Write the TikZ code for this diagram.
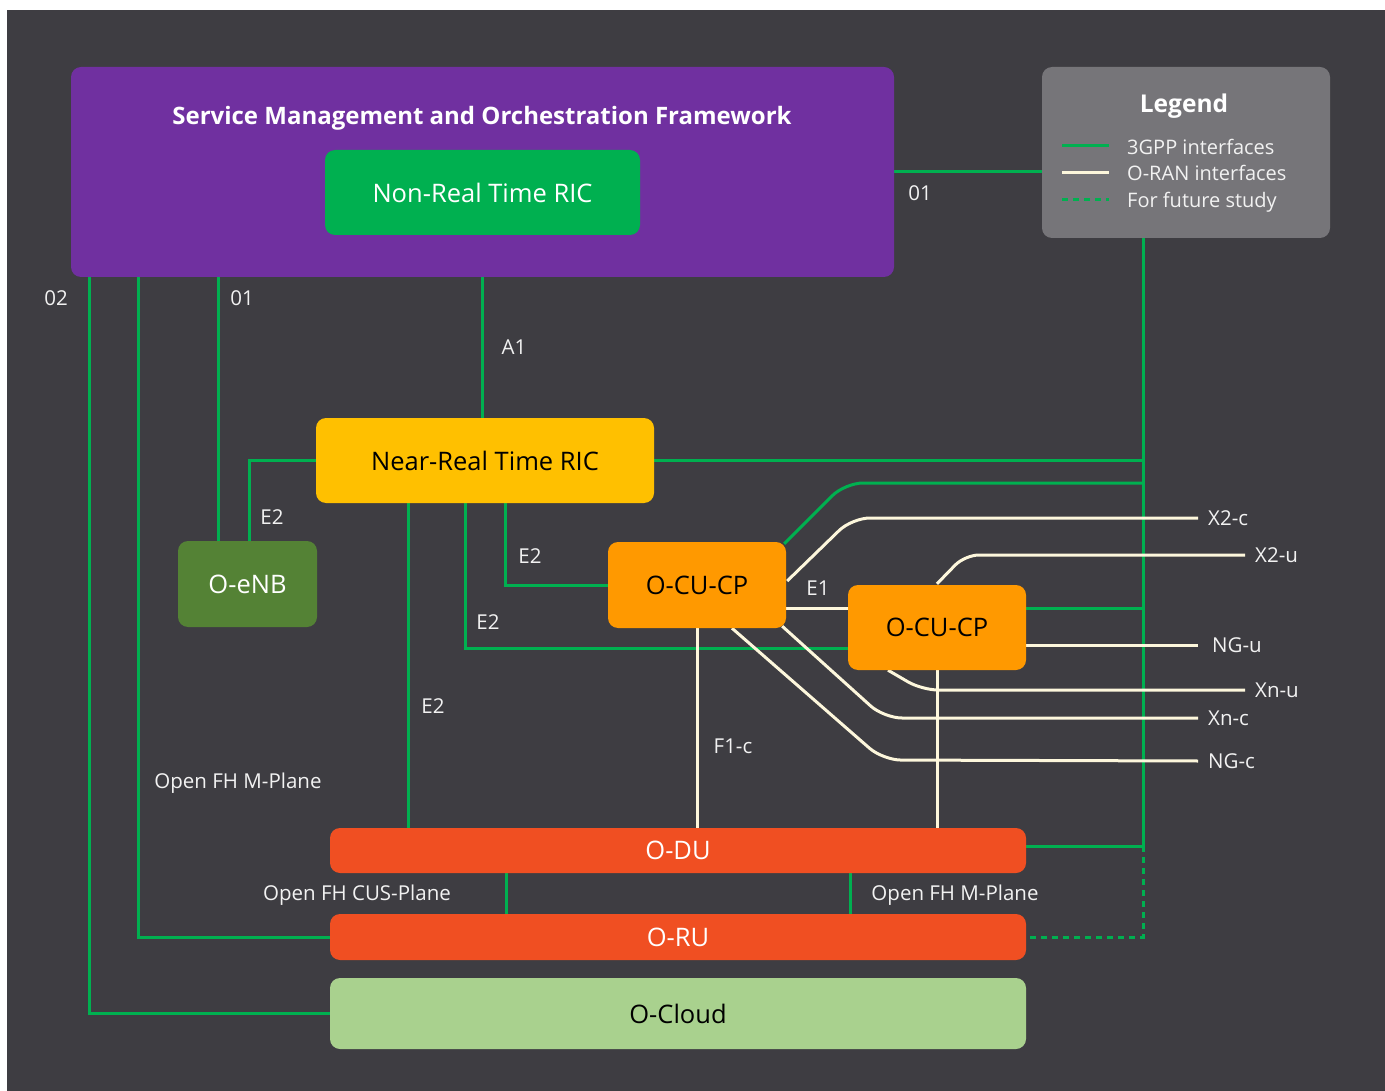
\documentclass[tikz,border=0pt]{standalone}
\usepackage{fontspec}
\setmainfont{Open Sans}
\usetikzlibrary{calc}
\definecolor{bgc}{HTML}{3E3D42}
\definecolor{smoc}{HTML}{7030A0}
\definecolor{lg}{HTML}{00B050}
\definecolor{legc}{HTML}{767579}
\definecolor{nrtc}{HTML}{FFC000}
\definecolor{enbc}{HTML}{548235}
\definecolor{cuc}{HTML}{FF9900}
\definecolor{duc}{HTML}{F04F22}
\definecolor{cloudc}{HTML}{A9D18E}
\definecolor{cream}{HTML}{FDF7DC}
\definecolor{lbltext}{HTML}{F2F2F2}
\pgfdeclarelayer{back}
\pgfdeclarelayer{lines}
\pgfsetlayers{back,lines,main}
\begin{document}
\begin{tikzpicture}[x=1pt,y=-1pt,
  box/.style={rounded corners=10pt, inner sep=0pt, draw=none},
  btext/.style={font=\fontsize{25.5}{30}\selectfont},
  gl/.style={draw=lg, line width=3pt},
  gdash/.style={draw=lg, line width=3pt, dash pattern=on 6pt off 5pt},
  wl/.style={draw=cream, line width=3pt},
  lbl/.style={text=lbltext, inner sep=0pt, text height=1.35ex, text depth=0pt, yshift=-3.5pt, font=\fontsize{20.5}{24}\selectfont},
  elbl/.style={lbl, anchor=west, xshift=10pt}
]
\useasboundingbox (0,0) rectangle (1385,1091);
\begin{pgfonlayer}{back}
\fill[white] (0,0) rectangle (1385,1091);
\fill[bgc] (7,10) rectangle (1385,1091);
\end{pgfonlayer}

% boxes
\node[box, fill=smoc, minimum width=823pt, minimum height=210pt] (smo) at (482.5,172) {};
\node[text=white, font=\bfseries\fontsize{24}{28}\selectfont] (smot) at (482,118) {Service Management and Orchestration Framework};
\node[box, fill=lg, minimum width=315pt, minimum height=85pt, text=white, btext] (nonrt) at (482.5,192.5) {Non-Real Time RIC};
\node[box, fill=legc, minimum width=288pt, minimum height=171pt] (legend) at (1186,152.5) {};
\node[text=white, font=\bfseries\fontsize{24.5}{28}\selectfont] (legt) at (1184,106) {Legend};
\node[box, fill=nrtc, minimum width=338pt, minimum height=85pt, text=black, btext] (nearrt) at (485,460.5) {Near-Real Time RIC};
\node[box, fill=enbc, minimum width=139pt, minimum height=86pt, text=white, btext] (oenb) at (247.5,584) {O-eNB};
\node[box, fill=cuc, minimum width=178pt, minimum height=86pt, text=black, btext] (cu1) at (697,585) {O-CU-CP};
\node[box, fill=cuc, minimum width=178pt, minimum height=85pt, text=black, btext] (cu2) at (937,627.5) {O-CU-CP};
\node[box, fill=duc, minimum width=696pt, minimum height=45pt, text=white, btext] (odu) at (678,850.5) {O-DU};
\node[box, fill=duc, minimum width=696pt, minimum height=46pt, text=white, btext] (oru) at (678,937) {O-RU};
\node[box, fill=cloudc, minimum width=696pt, minimum height=71pt, text=black, btext] (ocloud) at (678,1013.5) {O-Cloud};

% legend entries
\coordinate (lg1a) at (1062,146); \coordinate (lg1b) at (1109,146);
\coordinate (lg2a) at (1062,173); \coordinate (lg2b) at (1109,173);
\coordinate (lg3a) at (1062,200); \coordinate (lg3b) at (1109,200);
\draw[gl] (lg1a) -- (lg1b);
\draw[wl] (lg2a) -- (lg2b);
\draw[gdash] (lg3a) -- (lg3b);
\node[lbl, anchor=west, font=\fontsize{20}{24}\selectfont] (le1) at (1127,147) {3GPP interfaces};
\node[lbl, anchor=west, font=\fontsize{20}{24}\selectfont] (le2) at (1127,173) {O-RAN interfaces};
\node[lbl, anchor=west, font=\fontsize{20}{24}\selectfont] (le3) at (1127,200) {For future study};

% helper coordinates
\coordinate (bus) at (1143,846);
\coordinate (x89) at (89,0);
\coordinate (x138) at (138,0);
\coordinate (x218) at (218,0);
\coordinate (x249) at (249,0);
\coordinate (x408) at (408,0);
\coordinate (x465) at (465,0);
\coordinate (x505) at (505,0);
\coordinate (x506) at (506,0);
\coordinate (x850) at (850,0);
\coordinate (y483) at (0,483);
\coordinate (y608) at (0,608);
\coordinate (y645) at (0,645);
\coordinate (y648) at (0,648);
\coordinate (endS) at (1198,0);
\coordinate (endL) at (1245,0);

\begin{pgfonlayer}{lines}
% green 3GPP / O-RAN mgmt lines
\draw[gl] (nonrt.south) -- (nonrt.south |- nearrt.north);
\draw[gl] (smo.east) -- (smo.east -| legend.west);
\draw[gl] (legend.south -| bus) -- (bus);
\draw[gl] (odu.east |- bus) -- (bus);
\draw[gdash] (bus) -- (bus |- oru.east) -- (oru.east);
\draw[gl] (nearrt.east) -- (nearrt.east -| bus);
\draw[gl, rounded corners=18pt] ($(cu1.north east)+(-2,2)$) -- (845,483) -- (bus |- y483);
\draw[gl] (cu2.east |- y608) -- (bus |- y608);
\draw[gl] (smo.south -| x218) -- (x218 |- oenb.north);
\draw[gl] (nearrt.west) -- (nearrt.west -| x249) -- (x249 |- oenb.north);
\draw[gl] (nearrt.south -| x505) -- (x505 |- cu1.west) -- (cu1.west);
\draw[gl] (nearrt.south -| x465) -- (x465 |- y648) -- (cu2.west |- y648);
\draw[gl] (nearrt.south -| x408) -- (x408 |- odu.north);
\draw[gl] (odu.south -| x506) -- (x506 |- oru.north);
\draw[gl] (odu.south -| x850) -- (x850 |- oru.north);
\draw[gl] (smo.south -| x138) -- (x138 |- oru.west) -- (oru.west);
\draw[gl] (smo.south -| x89) -- (x89 |- ocloud.west) -- (ocloud.west);
% white O-RAN / 3GPP interface lines
\draw[wl] (cu1.east |- y608) -- (cu2.west |- y608);
\draw[wl] (cu1.south) -- (cu1.south |- odu.north);
\draw[wl] (cu2.south) -- (cu2.south |- odu.north);
\draw[wl, rounded corners=18pt] ($(cu1.east)+(1,-4)$) -- (852,518) -- (1198,518) coordinate (ex2c);
\draw[wl, rounded corners=14pt] ($(cu2.north)+(0,-1)$) -- (965,555) -- (1245,555) coordinate (ex2u);
\draw[wl] (cu2.east |- y645) -- (endS |- y645) coordinate (engu);
\draw[wl, rounded corners=16pt] ($(cu2.south)+(-49,0)$) -- (922,690) -- (1245,690) coordinate (exnu);
\draw[wl, rounded corners=18pt] ($(cu1.south east)+(-4,-2)$) -- (884,718) -- (1198,718) coordinate (exnc);
\draw[wl, rounded corners=18pt] ($(cu1.south)+(35,0)$) -- (883,760) -- (1198,761) coordinate (engc);
\end{pgfonlayer}

% end labels
\node[elbl] (lx2c) at (ex2c) {X2-c};
\node[elbl] (lx2u) at (ex2u) {X2-u};
\node[elbl, xshift=4pt] (lngu) at (engu) {NG-u};
\node[elbl] (lxnu) at (exnu) {Xn-u};
\node[elbl] (lxnc) at (exnc) {Xn-c};
\node[elbl] (lngc) at (engc) {NG-c};

% connector labels
\node[lbl] (l01a) at (920,193) {01};
\node[lbl] (l02) at (56,298) {02};
\node[lbl] (l01b) at (242,298) {01};
\node[lbl] (la1) at (514,347) {A1};
\node[lbl] (le2a) at (272,517) {E2};
\node[lbl] (le2b) at (530,556) {E2};
\node[lbl] (le2c) at (488,622) {E2};
\node[lbl] (le2d) at (433,706) {E2};
\node[lbl] (le1x) at (818,588) {E1};
\node[lbl] (lf1c) at (733,746) {F1-c};
\node[lbl] (lmp1) at (238,781) {Open FH M-Plane};
\node[lbl] (lcus) at (357,893) {Open FH CUS-Plane};
\node[lbl] (lmp2) at (955,893) {Open FH M-Plane};
\end{tikzpicture}
\end{document}
